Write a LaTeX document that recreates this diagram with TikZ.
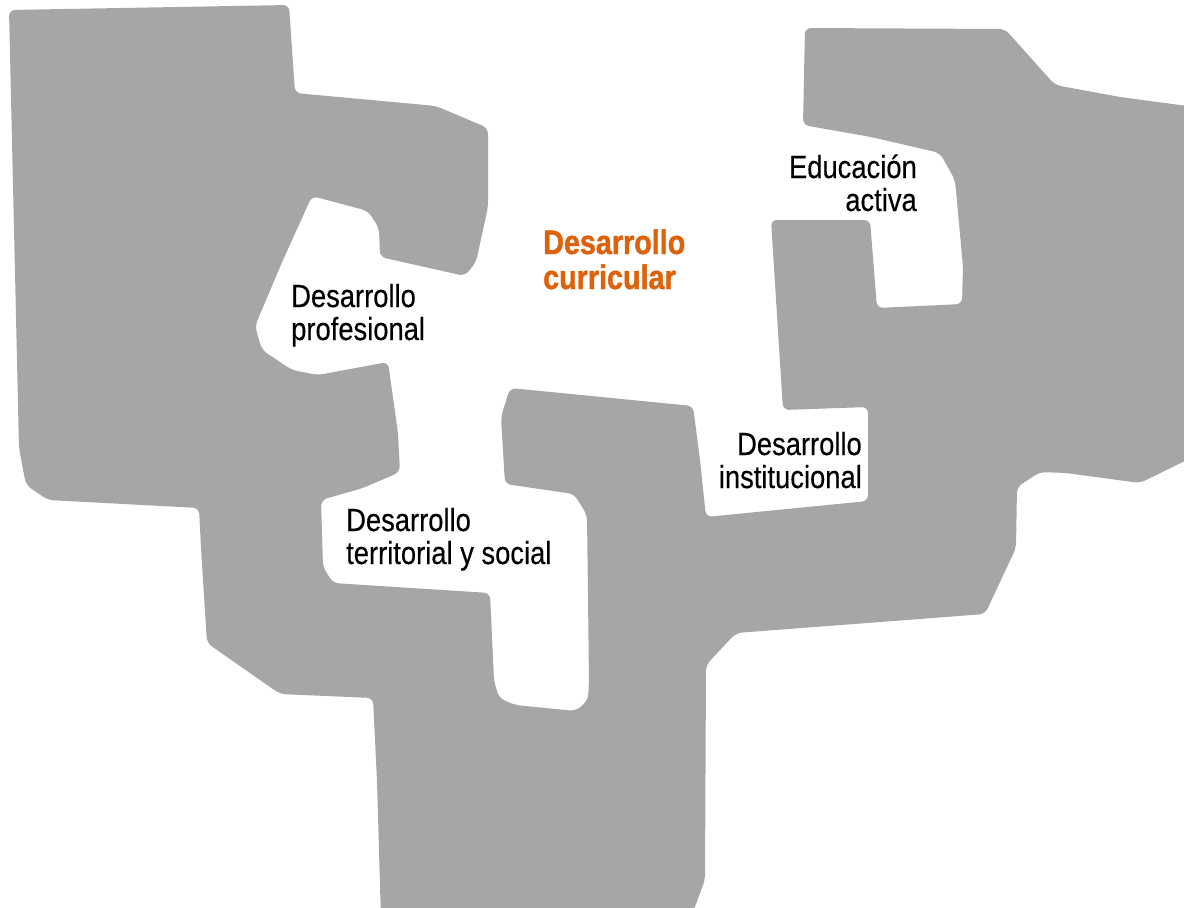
\documentclass[tikz,border=0pt]{standalone}
\usepackage{fontspec}
\newfontfamily\labfont[FakeStretch=0.855,FakeBold=0.3]{Liberation Sans}
\newfontfamily\labboldfam[FakeStretch=0.845,FakeBold=1.2]{Liberation Sans}
\definecolor{logogray}{RGB}{167,166,167}
\definecolor{curorange}{RGB}{221,98,12}
\newcommand\leftlines[2]{\vtop{\halign{##\hfil\cr#1\cr#2\cr}}}
\newcommand\rightlines[2]{\vtop{\halign{\hfil##\cr#1\cr#2\cr}}}
\tikzset{
  lbl/.style={inner sep=0pt, text=black, font=\labfont\fontsize{32}{33}\selectfont},
  lblo/.style={inner sep=0pt, text=curorange, font=\labboldfam\bfseries\fontsize{34}{35}\selectfont},
  blob/.style={fill=logogray, draw=none, rounded corners=6pt}
}
\begin{document}
\begin{tikzpicture}[x=1pt,y=-1pt]
\useasboundingbox (0,0) rectangle (1184,908);
\fill[white] (0,0) rectangle (1184,908);
\path[blob]
 (9,10) -- (289,5) -- (295,93) -- (436,106) -- (488,128) -- (488,207)
 -- (476,262) -- (465,276) -- (380,257) -- (379,228) -- (368,211) -- (312,196)
 -- (283,260) -- (255,326) -- (262,350) -- (292,370) -- (318,375) -- (388,362)
 -- (398,433) -- (400,472) -- (363,488) -- (321,500) -- (323,567) -- (333,583)
 -- (490,593) -- (494,681) -- (499,698) -- (515,705) -- (576,711) -- (588,700)
 -- (589,681) -- (587,515) -- (574,494) -- (505,484) -- (501,417) -- (510,388)
 -- (693,406) -- (700,460) -- (706,517) -- (868,501) -- (868,407) -- (783,410)
 -- (771,220) -- (870,220) -- (877,308) -- (962,304) -- (963,267) -- (955,180)
 -- (940,153) -- (871,137) -- (803,125) -- (805,28) -- (1005,29) -- (1055,85)
 -- (1120,97) -- (1195,107) -- (1195,456) -- (1140,483) -- (1066,473)
 -- (1040,472) -- (1017,487) -- (1016,548) -- (985,614) -- (736,633)
 -- (706,665) -- (705,880) -- (690,920) -- (381,920) -- (377,781) -- (373,698)
 -- (280,694) -- (207,643) -- (201,548) -- (199,508) -- (48,500) -- (26,485)
 -- (19,448) -- cycle;
\node[lbl, anchor=base west] (prof) at (291,307) {\leftlines{Desarrollo}{profesional}};
\node[lblo, anchor=base west] (curr) at (543,254) {\leftlines{Desarrollo}{curricular}};
\node[lbl, anchor=base west] (terr) at (346,531) {\leftlines{Desarrollo}{territorial y social}};
\node[lbl, anchor=base east] (inst) at (862,455) {\rightlines{Desarrollo}{institucional}};
\node[lbl, anchor=base east] (edu) at (917,178) {\rightlines{Educación}{activa}};
\end{tikzpicture}
\end{document}
